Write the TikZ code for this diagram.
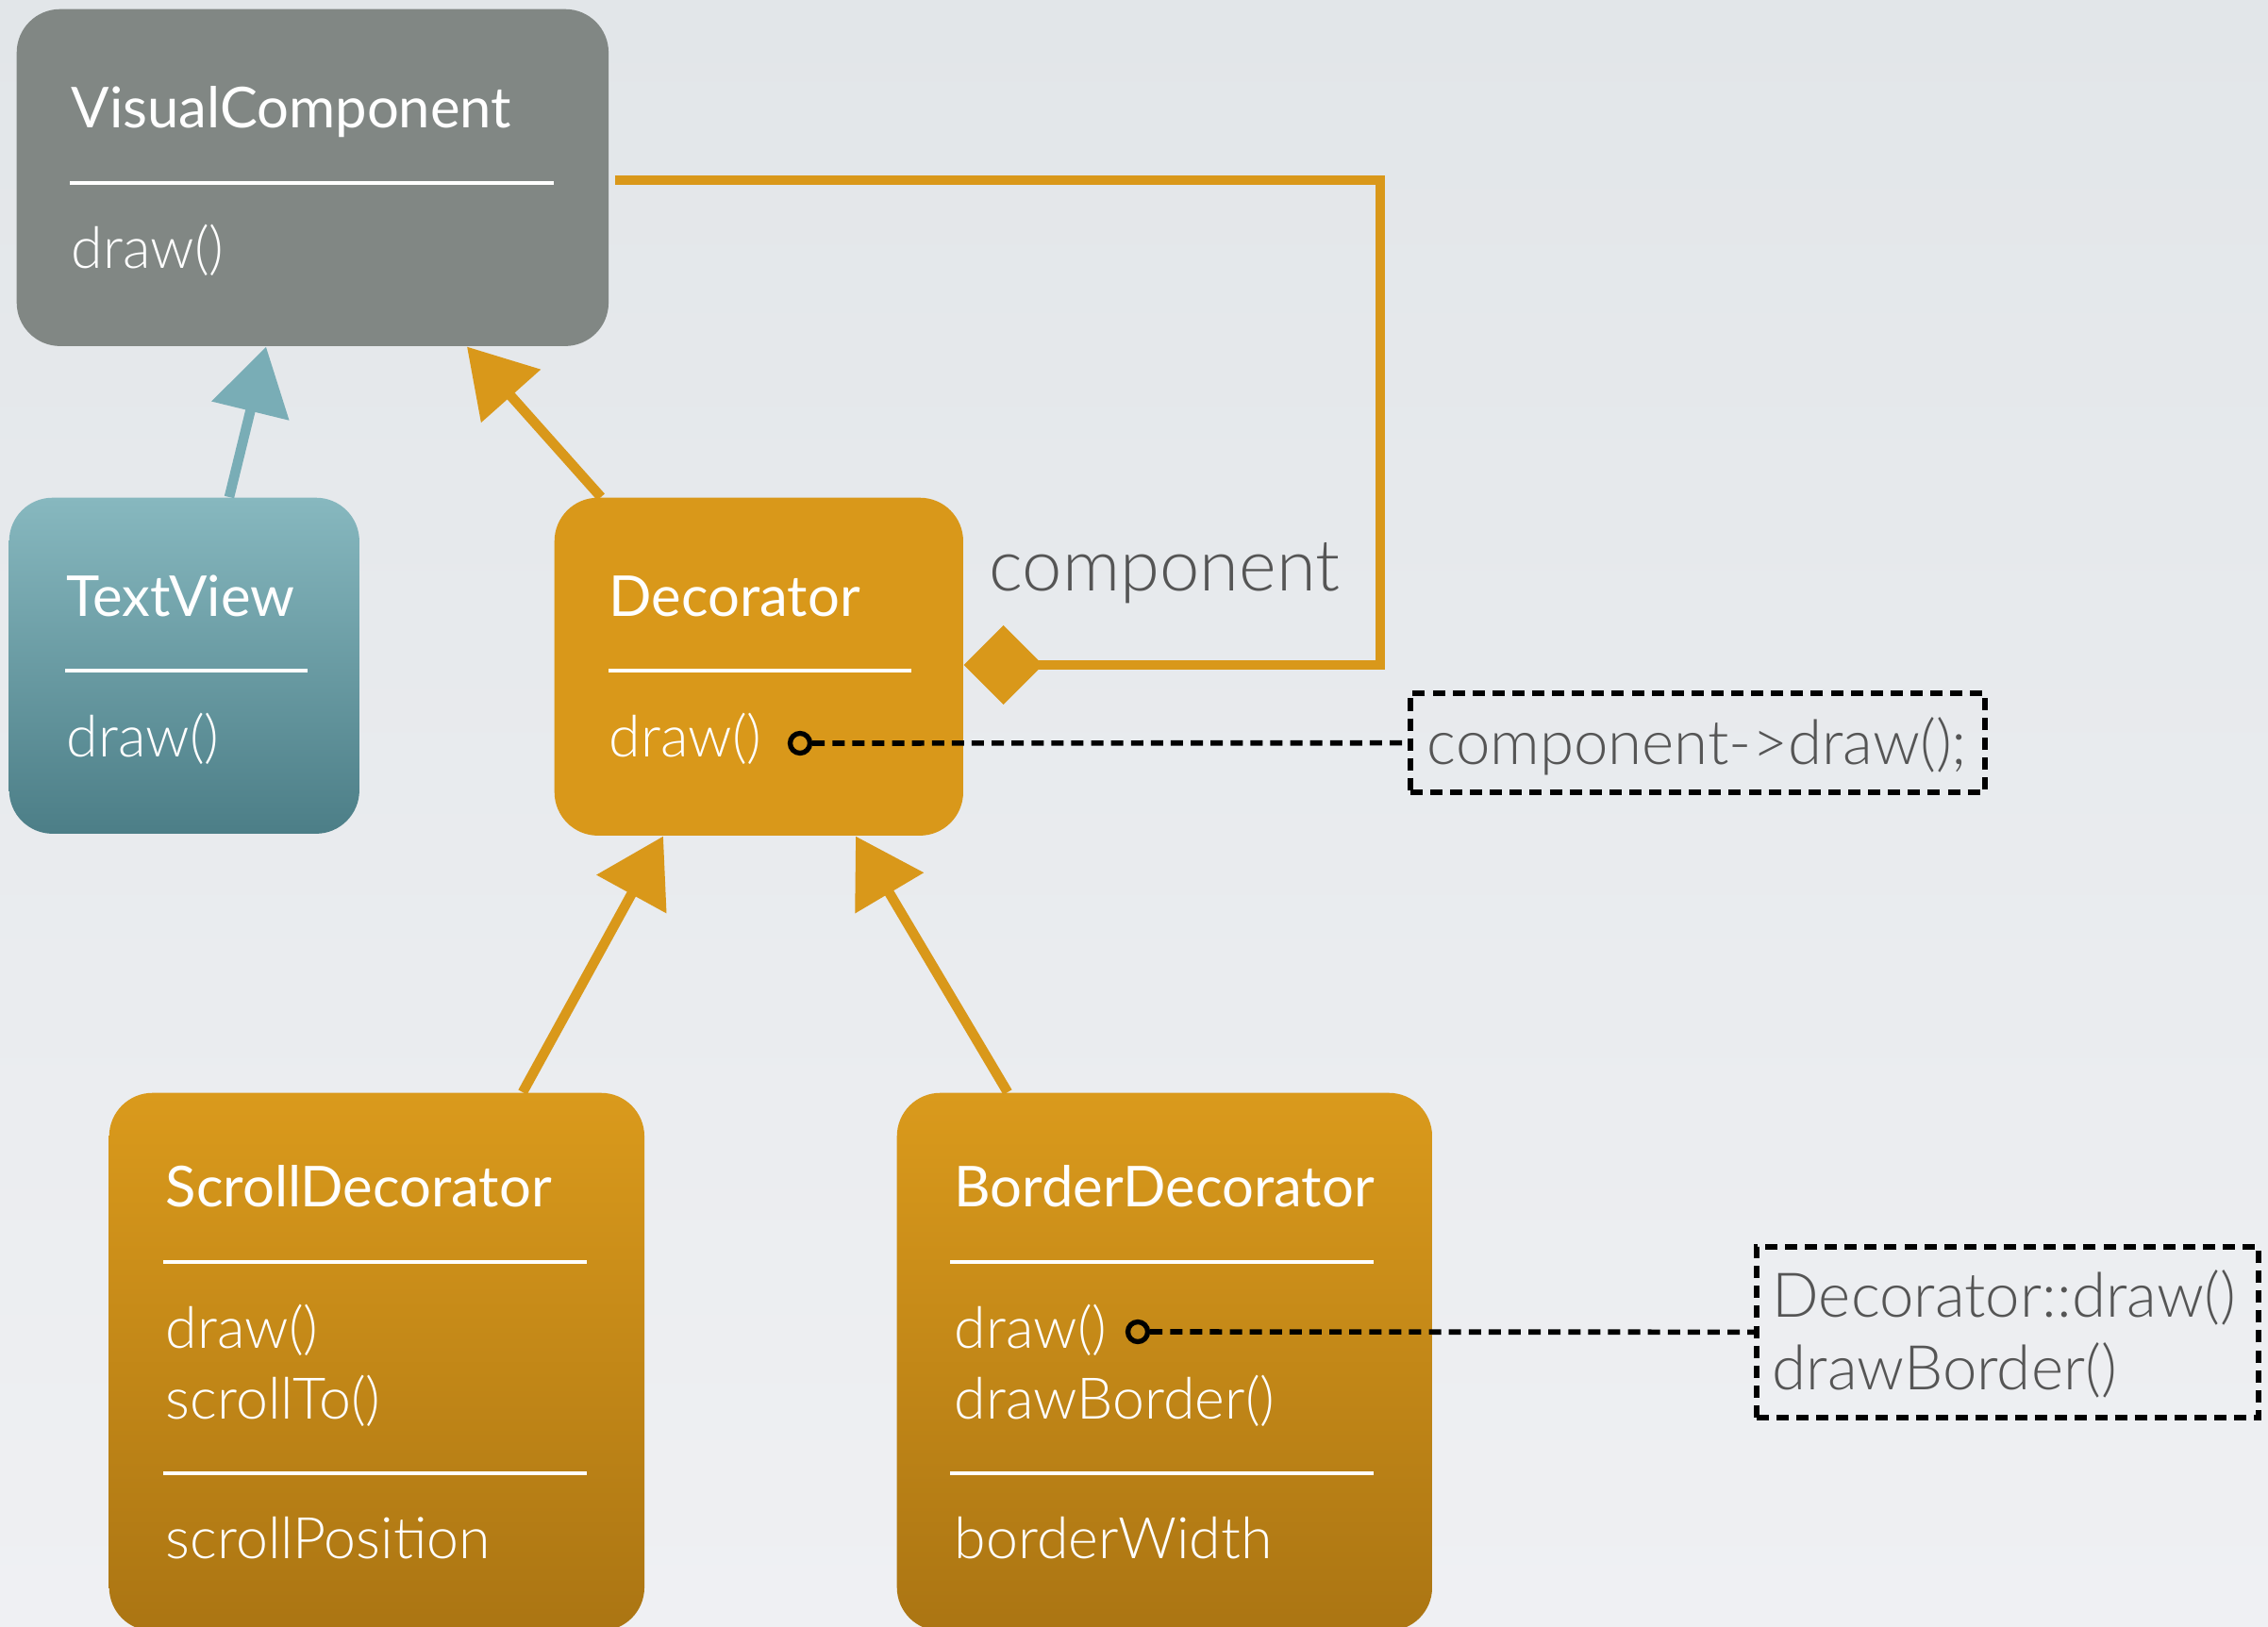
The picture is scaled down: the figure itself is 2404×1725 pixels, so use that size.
\documentclass[tikz,border=0pt]{standalone}
\usepackage{fontspec}
\setmainfont{Lato}
\newfontfamily\lightfont{Lato Light}
\usetikzlibrary{arrows.meta,calc}

\definecolor{bgtop}{HTML}{E2E6E9}
\definecolor{bgbot}{HTML}{EFF0F3}
\definecolor{greybox}{HTML}{818784}
\definecolor{tealtop}{HTML}{87B8BF}
\definecolor{tealbot}{HTML}{4C7E87}
\definecolor{gold}{HTML}{D9981A}
\definecolor{goldtop}{HTML}{DA9A1C}
\definecolor{goldbot}{HTML}{AB7513}
\definecolor{tealline}{HTML}{79ADB6}
\definecolor{notegrey}{HTML}{555555}

\begin{document}
\begin{tikzpicture}[x=0.01cm,y=-0.01cm,
  classbox/.style={rectangle, rounded corners=0.46cm, inner sep=0pt, anchor=north west},
  title/.style={anchor=base west, text=white, inner sep=0pt, font=\fontsize{17}{20}\selectfont},
  member/.style={anchor=base west, text=white, inner sep=0pt, font=\lightfont\fontsize{17.3}{20}\selectfont},
  sepline/.style={white, line width=0.9pt},
  inherit/.style={line width=3pt, -{Triangle[length=0.7cm,width=0.82cm]}},
  aggregate/.style={gold, line width=3pt, line join=miter, -{Diamond[length=0.84cm,width=0.84cm]}},
  dotmark/.style={circle, draw=black, line width=1.5pt, minimum size=0.21cm, inner sep=0pt},
  notelink/.style={black, line width=1.6pt, dash pattern=on 3.7pt off 2.3pt},
  notebox/.style={rectangle, draw=black, line width=1.6pt, dash pattern=on 3.7pt off 2.3pt, inner sep=0pt},
  notetext/.style={anchor=base west, inner sep=0pt, text=notegrey, font=\lightfont\fontsize{18.6}{22}\selectfont},
]
\useasboundingbox (0,0) rectangle (2404,1725);
\clip (0,0) rectangle (2404,1725);
\shade[top color=bgtop, bottom color=bgbot] (0,0) rectangle (2404,1725);

% class boxes
\node[classbox, fill=greybox, minimum width=6.27cm, minimum height=3.57cm] (visual) at (17,9) {};
\node[classbox, top color=tealtop, bottom color=tealbot, minimum width=3.71cm, minimum height=3.56cm] (textview) at (9,527) {};
\node[classbox, fill=gold, minimum width=4.33cm, minimum height=3.58cm] (decorator) at (587,527) {};
\node[classbox, top color=goldtop, bottom color=goldbot, minimum width=5.67cm, minimum height=5.70cm] (scroll) at (115,1158) {};
\node[classbox, top color=goldtop, bottom color=goldbot, minimum width=5.67cm, minimum height=5.70cm] (border) at (950,1158) {};

% VisualComponent
\node[title] (visualname) at (75,136) {VisualComponent};
\draw[sepline] (74,194) -- (587,194);
\node[member] (visualdraw) at (75,285) {draw()};

% TextView
\node[title] (textviewname) at (70,653) {TextView};
\draw[sepline] (69,711) -- (326,711);
\node[member] (textviewdraw) at (70,802) {draw()};

% Decorator
\node[title] (decoratorname) at (645,653) {Decorator};
\draw[sepline] (645,711) -- (966,711);
\node[member] (decoratordraw) at (645,802) {draw()};

% ScrollDecorator
\node[title] (scrollname) at (175,1279) {ScrollDecorator};
\draw[sepline] (173,1338) -- (622,1338);
\node[member] (scrolldraw) at (175,1429) {draw()};
\node[member] (scrollto) at (175,1504) {scrollTo()};
\draw[sepline] (173,1562) -- (622,1562);
\node[member] (scrollpos) at (175,1652) {scrollPosition};

% BorderDecorator
\node[title] (bordername) at (1011,1279) {BorderDecorator};
\draw[sepline] (1007,1338) -- (1456,1338);
\node[member] (borderdraw) at (1011,1429) {draw()};
\node[member] (borderdrawborder) at (1011,1504) {drawBorder()};
\draw[sepline] (1007,1562) -- (1456,1562);
\node[member] (borderwidth) at (1011,1652) {borderWidth};

% inheritance
\draw[inherit, tealline] ($(textview.north west)+(234,0)$) -- ($(visual.south west)+(265,0)$);
\draw[inherit, gold] ($(decorator.north west)+(50,0)$) -- ($(visual.south west)+(478,0)$);
\draw[inherit, gold] ($(scroll.north west)+(439,0)$) -- ($(decorator.south west)+(116,0)$);
\draw[inherit, gold] ($(border.north west)+(118,0)$) -- ($(decorator.south west)+(320,0)$);

% aggregation: component
\coordinate (aggfrom) at ($(visual.north east)+(6,182)$);
\coordinate (aggto) at ($(decorator.north east)+(0,178)$);
\coordinate (aggcorner) at (1463,191);
\draw[aggregate] (aggfrom) -- (aggfrom -| aggcorner) -- (aggcorner |- aggto) -- (aggto);
\node[anchor=base west, inner sep=0pt, text=notegrey, font=\lightfont\fontsize{21.6}{25}\selectfont] (complabel) at (1048,626) {component};

% implementation notes
\node[dotmark] (dot1) at (848,788) {};
\node[notebox, minimum width=6.09cm, minimum height=1.05cm] (note1) at (1799.5,787.5) {};
\node[notetext] (note1text) at (1512,810) {component->draw();};
\draw[notelink] (dot1) -- (note1);

\node[dotmark] (dot2) at (1206,1412) {};
\node[notebox, minimum width=5.32cm, minimum height=1.81cm] (note2) at (2128,1412.5) {};
\node[notetext] (note2texta) at (1878,1396) {Decorator::draw()};
\node[notetext] (note2textb) at (1878,1473) {drawBorder()};
\draw[notelink] (dot2) -- (note2);
\end{tikzpicture}
\end{document}
